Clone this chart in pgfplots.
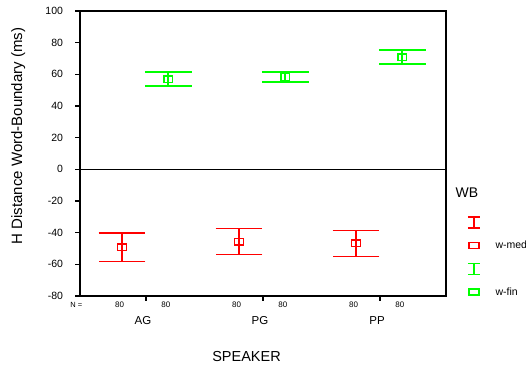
\documentclass[border=0pt]{standalone}
\usepackage{fontspec}
\setmainfont{Liberation Sans}
\usepackage{pgfplots}
\pgfplotsset{compat=1.18}
\usepackage{pgfplotstable}
\definecolor{wmed}{RGB}{255,0,0}
\definecolor{wfin}{RGB}{0,255,0}
\pgfplotstableread{
x y err
0.795 -49.2 9.0
1.795 -45.7 8.2
2.795 -46.8 8.1
}\wmedtab
\pgfplotstableread{
x y err
1.19 57.0 4.4
2.19 58.3 3.2
3.19 70.9 4.4
}\wfintab
\begin{document}
\begin{tikzpicture}
\useasboundingbox (0,0) rectangle (526pt,-369pt);
\begin{axis}[
  scale only axis, width=366pt, height=285pt,
  at={(80pt,-296pt)}, anchor=south west,
  xmin=0.436, xmax=3.564, ymin=-80, ymax=100,
  ytick={-80,-60,...,100},
  xtick={1,2,3}, xticklabels={AG,PG,PP},
  xtick pos=bottom, ytick pos=left,
  tick align=outside, major tick length=4.5pt,
  axis line style={line width=1.6pt},
  tick style={line width=1.2pt, black},
  /pgf/number format/assume math mode=true,
  yticklabel style={font=\fontsize{10.5}{12}\selectfont, xshift=-9pt},
  xticklabel style={font=\fontsize{11.5}{13}\selectfont, anchor=center, yshift=-20pt, xshift=-3pt},
  xlabel={SPEAKER},
  xlabel style={at={(rel axis cs:0.455,-0.213)}, anchor=center, font=\fontsize{14.5}{16}\selectfont},
  ylabel={H Distance Word-Boundary (ms)},
  ylabel style={at={(rel axis cs:-0.169,0.561)}, anchor=center, rotate=0, font=\fontsize{15}{17}\selectfont},
  clip=false,
  legend style={at={(rel axis cs:1.0574,0.2807)}, anchor=north west, draw=none, fill=none,
    inner sep=0pt, outer sep=0pt, row sep=10.5pt, column sep=13pt,
    font=\fontsize{10.5}{12}\selectfont},
  legend cell align=left,
]
\addplot[wmed, forget plot, only marks, mark=square, mark size=3.3pt, line width=1.5pt,
  mark options={xscale=1.35, solid, line width=1.5pt},
  error bars/.cd, y dir=both, y explicit, error mark=|,
  error bar style={line width=1.5pt, wmed},
  error mark options={wmed, mark size=23.4pt, line width=1.5pt}]
  table[x=x, y=y, y error=err] {\wmedtab};
\addplot[wfin, forget plot, only marks, mark=square, mark size=3.3pt, line width=1.5pt,
  mark options={xscale=1.35, solid, line width=1.5pt},
  error bars/.cd, y dir=both, y explicit, error mark=|,
  error bar style={line width=1.5pt, wfin},
  error mark options={wfin, mark size=23.4pt, line width=1.5pt}]
  table[x=x, y=y, y error=err] {\wfintab};
\draw[line width=1.6pt] (axis cs:0.436,0) -- (axis cs:3.564,0);
\addlegendimage{wmed, solid, line width=1.5pt, legend image code/.code={
  \path[draw=none,fill=none] (0pt,-6pt) rectangle (12pt,6pt);
  \draw[wmed, solid, line width=1.5pt] (0pt,-5.5pt)--(12pt,-5.5pt);
  \draw[wmed, solid, line width=1.5pt] (0pt,5.5pt)--(12pt,5.5pt);
  \draw[wmed, solid, line width=1.5pt] (6pt,-5.5pt)--(6pt,5.5pt);}}
\addlegendentry{}
\addlegendimage{wmed, solid, line width=1.5pt, legend image code/.code={
  \path[draw=none,fill=none] (0pt,-6pt) rectangle (12pt,6pt);
  \draw[wmed, solid, line width=1.5pt] (1pt,-3pt) rectangle (11pt,3pt);}}
\addlegendentry{w-med}
\addlegendimage{wfin, solid, line width=1.5pt, legend image code/.code={
  \path[draw=none,fill=none] (0pt,-6pt) rectangle (12pt,6pt);
  \draw[wfin, solid, line width=1.5pt] (0pt,-5.5pt)--(12pt,-5.5pt);
  \draw[wfin, solid, line width=1.5pt] (0pt,5.5pt)--(12pt,5.5pt);
  \draw[wfin, solid, line width=1.5pt] (6pt,-5.5pt)--(6pt,5.5pt);}}
\addlegendentry{}
\addlegendimage{wfin, solid, line width=1.5pt, legend image code/.code={
  \path[draw=none,fill=none] (0pt,-6pt) rectangle (12pt,6pt);
  \draw[wfin, solid, line width=1.5pt] (1pt,-3pt) rectangle (11pt,3pt);}}
\addlegendentry{w-fin}
\node[anchor=west, font=\fontsize{14}{16}\selectfont] at (rel axis cs:1.0164,0.3614) {WB};
\node[font=\fontsize{7.5}{9}\selectfont] at (rel axis cs:-0.01,0) [yshift=-9pt] {N =};
\node[font=\fontsize{8}{9}\selectfont] at (axis cs:0.775,-80) [yshift=-9pt] {80};
\node[font=\fontsize{8}{9}\selectfont] at (axis cs:1.775,-80) [yshift=-9pt] {80};
\node[font=\fontsize{8}{9}\selectfont] at (axis cs:2.775,-80) [yshift=-9pt] {80};
\node[font=\fontsize{8}{9}\selectfont] at (axis cs:1.17,-80) [yshift=-9pt] {80};
\node[font=\fontsize{8}{9}\selectfont] at (axis cs:2.17,-80) [yshift=-9pt] {80};
\node[font=\fontsize{8}{9}\selectfont] at (axis cs:3.17,-80) [yshift=-9pt] {80};
\end{axis}
\end{tikzpicture}
\end{document}
